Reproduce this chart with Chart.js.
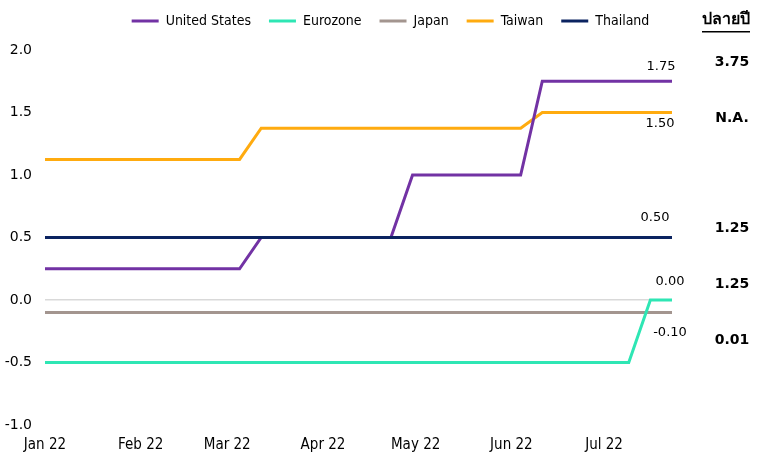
<!DOCTYPE html>
<html>
<head>
<meta charset="utf-8">
<script src="https://cdn.jsdelivr.net/npm/chart.js@4.4.0/dist/chart.umd.min.js"></script>
<style>
html, body { margin: 0; padding: 0; background: #fff; }
</style>
</head>
<body>
<canvas id="myChart" width="763" height="453"></canvas>
<script>
// weekly observations
const weeks = [
    '2022-01-01', '2022-01-08', '2022-01-15', '2022-01-22', '2022-01-29',
    '2022-02-05', '2022-02-12', '2022-02-19', '2022-02-26',
    '2022-03-05', '2022-03-12', '2022-03-19', '2022-03-26',
    '2022-04-02', '2022-04-09', '2022-04-16', '2022-04-23', '2022-04-30',
    '2022-05-07', '2022-05-14', '2022-05-21', '2022-05-28',
    '2022-06-04', '2022-06-11', '2022-06-18', '2022-06-25',
    '2022-07-02', '2022-07-09', '2022-07-16', '2022-07-23'
];
const monthTicks = ['2022-01-01', '2022-02-01', '2022-03-01', '2022-04-01', '2022-05-01', '2022-06-01', '2022-07-01'];
const monthLabels = ['Jan 22', 'Feb 22', 'Mar 22', 'Apr 22', 'May 22', 'Jun 22', 'Jul 22'];

const usRate = [0.25, 0.25, 0.25, 0.25, 0.25, 0.25, 0.25, 0.25, 0.25, 0.25,
    0.5, 0.5, 0.5, 0.5, 0.5, 0.5, 0.5,
    1.0, 1.0, 1.0, 1.0, 1.0, 1.0,
    1.75, 1.75, 1.75, 1.75, 1.75, 1.75, 1.75];
const euroRate = [-0.5, -0.5, -0.5, -0.5, -0.5, -0.5, -0.5, -0.5, -0.5, -0.5,
    -0.5, -0.5, -0.5, -0.5, -0.5, -0.5, -0.5, -0.5, -0.5, -0.5,
    -0.5, -0.5, -0.5, -0.5, -0.5, -0.5, -0.5, -0.5,
    0.0, 0.0];
const japanRate = [-0.1, -0.1, -0.1, -0.1, -0.1, -0.1, -0.1, -0.1, -0.1, -0.1,
    -0.1, -0.1, -0.1, -0.1, -0.1, -0.1, -0.1, -0.1, -0.1, -0.1,
    -0.1, -0.1, -0.1, -0.1, -0.1, -0.1, -0.1, -0.1, -0.1, -0.1];
const taiwanRate = [1.125, 1.125, 1.125, 1.125, 1.125, 1.125, 1.125, 1.125, 1.125, 1.125,
    1.375, 1.375, 1.375, 1.375, 1.375, 1.375, 1.375, 1.375, 1.375, 1.375,
    1.375, 1.375, 1.375,
    1.5, 1.5, 1.5, 1.5, 1.5, 1.5, 1.5];
const thaiRate = [0.5, 0.5, 0.5, 0.5, 0.5, 0.5, 0.5, 0.5, 0.5, 0.5,
    0.5, 0.5, 0.5, 0.5, 0.5, 0.5, 0.5, 0.5, 0.5, 0.5,
    0.5, 0.5, 0.5, 0.5, 0.5, 0.5, 0.5, 0.5, 0.5, 0.5];

const yMin = -1.0;
const yMax = 2.0;
const yStep = 0.5;

// ค่าคาดการณ์ปลายปี (US, Taiwan, Thailand, Eurozone, Japan)
const yearEndTitle = 'ปลายปี';
const yearEndValues = ['3.75', 'N.A.', '1.25', '1.25', '0.01'];

const dayOf = d => (Date.parse(d) - Date.parse(weeks[0])) / 86400000;
const toPoints = arr => arr.map((v, i) => ({ x: dayOf(weeks[i]), y: v }));

const condensed = "'DejaVu Sans Condensed', 'DejaVu Sans', sans-serif";
const plain = "'DejaVu Sans', Tahoma, sans-serif";

// label next to the end of each line
const endLabelOffset = {
    'United States': [-11, -15],
    'Eurozone': [-2, -18],
    'Japan': [-2, 20],
    'Taiwan': [-12, 11],
    'Thailand': [-17, -20]
};

const endLabels = {
    id: 'endLabels',
    afterDatasetsDraw(chart) {
        const c = chart.ctx;
        c.save();
        c.font = '13px ' + plain;
        c.fillStyle = '#000';
        c.textAlign = 'center';
        c.textBaseline = 'middle';
        chart.data.datasets.forEach(ds => {
            const last = ds.data[ds.data.length - 1];
            const off = endLabelOffset[ds.label];
            const x = chart.scales.x.getPixelForValue(last.x) + off[0];
            const y = chart.scales.y.getPixelForValue(last.y) + off[1];
            c.fillText(last.y.toFixed(2), x, y);
        });

        // right column
        c.font = 'bold 16px ' + plain;
        c.fillText(yearEndTitle, 726, 20);
        const w = c.measureText(yearEndTitle).width;
        c.fillRect(726 - w / 2, 31, w, 1.5);
        c.font = 'bold 14px ' + plain;
        const rows = [62, 118, 228, 284, 340];
        yearEndValues.forEach((t, i) => c.fillText(t, 732, rows[i]));
        c.restore();
    }
};

const legendHeight = {
    id: 'legendHeight',
    beforeInit(chart) {
        const fit = chart.legend.fit;
        chart.legend.fit = function () {
            fit.bind(chart.legend)();
            this.height = 54;
        };
    }
};

const ctx = document.getElementById('myChart').getContext('2d');
const myChart = new Chart(ctx, {
    type: 'line',
    data: {
        datasets: [
            { label: 'United States', data: toPoints(usRate), borderColor: '#7232a4', backgroundColor: '#7232a4', borderWidth: 3, order: 2 },
            { label: 'Eurozone', data: toPoints(euroRate), borderColor: '#2ee6b4', backgroundColor: '#2ee6b4', borderWidth: 3, order: 1 },
            { label: 'Japan', data: toPoints(japanRate), borderColor: '#a3958f', backgroundColor: '#a3958f', borderWidth: 3, order: 4 },
            { label: 'Taiwan', data: toPoints(taiwanRate), borderColor: '#ffab0f', backgroundColor: '#ffab0f', borderWidth: 3, order: 3 },
            { label: 'Thailand', data: toPoints(thaiRate), borderColor: '#0b2360', backgroundColor: '#0b2360', borderWidth: 3, order: 0 }
        ]
    },
    options: {
        responsive: false,
        animation: false,
        devicePixelRatio: 1,
        layout: { padding: { left: 0, right: -18, top: -4, bottom: 0 } },
        elements: {
            line: { tension: 0, borderCapStyle: 'butt' },
            point: { radius: 0 }
        },
        scales: {
            x: {
                type: 'linear',
                min: dayOf(weeks[0]),
                max: dayOf(weeks[weeks.length - 1]),
                grid: { display: false },
                border: { display: false },
                afterBuildTicks: s => { s.ticks = monthTicks.map(d => ({ value: dayOf(d) })); },
                afterFit: s => { s.height = 28; },
                ticks: {
                    autoSkip: false,
                    maxRotation: 0,
                    padding: 3,
                    color: '#000',
                    font: { family: condensed, size: 15 },
                    callback: (v, i) => monthLabels[i]
                }
            },
            y: {
                min: yMin,
                max: yMax,
                border: { display: false },
                grid: {
                    drawTicks: false,
                    color: c => c.tick.value === 0 ? '#d9d9d9' : 'rgba(0,0,0,0)',
                    lineWidth: 1.5
                },
                afterFit: s => { s.width = 45; },
                ticks: {
                    stepSize: yStep,
                    padding: 13,
                    color: '#000',
                    font: { family: plain, size: 14 },
                    callback: v => v.toFixed(1)
                }
            },
            y2: {
                position: 'right',
                grid: { display: false },
                border: { display: false },
                ticks: { display: false },
                afterFit: s => { s.width = 109; }
            }
        },
        plugins: {
            legend: {
                position: 'top',
                labels: {
                    usePointStyle: true,
                    pointStyle: 'line',
                    pointStyleWidth: 27,
                    boxHeight: 3,
                    padding: 18,
                    color: '#000',
                    font: { family: condensed, size: 14 },
                    sort: (a, b) => a.datasetIndex - b.datasetIndex
                }
            },
            tooltip: { enabled: false }
        }
    },
    plugins: [legendHeight, endLabels]
});
</script>
</body>
</html>
